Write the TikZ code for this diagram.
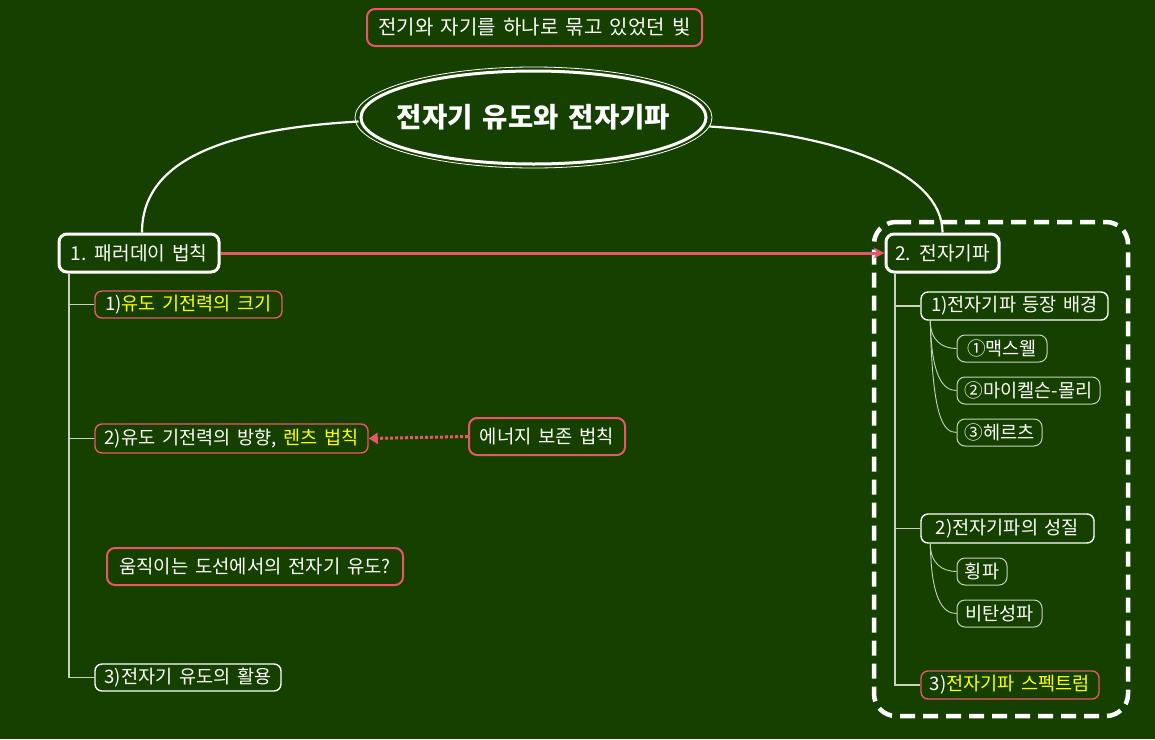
\documentclass[tikz,border=0pt]{standalone}
\usepackage{fontspec}
\setmainfont{Noto Sans CJK KR}[WordSpace=1.6]
\usetikzlibrary{arrows.meta,shapes.geometric}
\definecolor{bg}{HTML}{154000}
\definecolor{pinkc}{HTML}{E8566C}
\definecolor{yel}{HTML}{FFFF00}
\definecolor{treec}{HTML}{C9D3BF}
\tikzset{
  box/.style={draw, rounded corners=7pt, inner sep=0pt, text=white, line width=1.4pt, font=\fontsize{18.6}{20}\selectfont},
  pbox/.style={box, draw=pinkc},
  wbox/.style={box, draw=white},
  bigbox/.style={pbox, line width=2pt, rounded corners=8pt, font=\fontsize{18.8}{20}\selectfont},
  mainbox/.style={box, draw=white, line width=3pt, rounded corners=8pt, font=\fontsize{19.2}{21}\selectfont},
  leaf/.style={box, draw=treec, line width=1pt, rounded corners=8pt},
  treeline/.style={draw=treec, line width=1.3pt},
  subline/.style={draw=treec, line width=0.9pt},
  mainline/.style={draw=white, line width=2.2pt},
  frame/.style={draw=white, line width=4.5pt, dash pattern=on 15pt off 8pt, rounded corners=22pt}
}
\begin{document}
\begin{tikzpicture}[x=1pt,y=-1pt]
\fill[bg] (0,0) rectangle (1155,739);
\useasboundingbox (0,0) rectangle (1155,739);

% dashed frame
\draw[frame] (874,222) -- (1128,222) -- (1128,716) -- (874,716) -- cycle;

% top caption
\node[bigbox, minimum width=335, minimum height=37, font=\fontsize{20}{22}\selectfont] (cap) at (534.5,27.5) {전기와 자기를 하나로 묶고 있었던 빛};

% title ellipse
\node[inner sep=0pt, text=white, font=\fontsize{27.5}{30}\selectfont\bfseries] (title) at (533.5,117.5) {전자기 유도와 전자기파};
\draw[white, line width=3pt] (title.center) ellipse (172.5 and 46.5);
\draw[white, line width=0.8pt] (title.center) ellipse (178.5 and 50.5);
\coordinate (tl) at ([shift={(-175,4)}]title.center);
\coordinate (tr) at ([shift={(176,9)}]title.center);

% main nodes
\node[mainbox, minimum width=160, minimum height=38] (n1) at (139,253) {1. 패러데이 법칙};
\node[mainbox, minimum width=113, minimum height=38] (n2) at (942.5,253) {2. 전자기파};

% main curves
\draw[mainline] (tl) .. controls +(-140,8) and +(0,-70) .. ([xshift=3pt]n1.north);
\draw[mainline] (tr) .. controls +(130,8) and +(0,-60) .. (n2.north);

% pink arrow
\draw[draw=pinkc, line width=3pt, -{Stealth[length=11pt,width=11pt]}] (n1.east) -- (n2.west);

% left children
\node[pbox, minimum width=187, minimum height=27] (c1) at (188.5,304.5) {1)\textcolor{yel}{유도 기전력의 크기}};
\node[pbox, minimum width=273, minimum height=29] (c2) at (231.5,438.5) {2)유도 기전력의 방향, \textcolor{yel}{렌츠 법칙}};
\node[wbox, minimum width=186, minimum height=27] (c3) at (188,677.5) {3)전자기 유도의 활용};
\node[bigbox, minimum width=156, minimum height=37] (en) at (547,436.5) {에너지 보존 법칙};
\node[bigbox, minimum width=296, minimum height=37] (q) at (255,566.5) {움직이는 도선에서의 전자기 유도?};

\draw[treeline] ([xshift=-70pt]n1.south) |- (c3.west);
\draw[treeline] ([xshift=-70pt]n1.south |- c1.west) -- (c1.west);
\draw[treeline] ([xshift=-70pt]n1.south |- c2.west) -- (c2.west);

% dotted arrow
\draw[draw=pinkc, line width=3pt, dotted, -{Triangle[length=9pt,width=11pt]}] (en.west) -- (c2.east);

% right children
\node[wbox, minimum width=187, minimum height=28] (r1) at (1014.5,306) {1)전자기파 등장 배경};
\node[wbox, minimum width=173, minimum height=29] (r2) at (1007.5,528.5) {2)전자기파의 성질};
\node[pbox, minimum width=178, minimum height=28] (r3) at (1010,685) {3)\textcolor{yel}{전자기파 스펙트럼}};

\draw[treeline] ([xshift=-47.5pt]n2.south) |- (r3.west);
\draw[treeline] ([xshift=-47.5pt]n2.south |- r1.west) -- (r1.west);
\draw[treeline] ([xshift=-47.5pt]n2.south |- r2.west) -- (r2.west);

\node[leaf, minimum width=90, minimum height=27] (m1) at (1002,348.5) {①맥스웰};
\node[leaf, minimum width=143, minimum height=27] (m2) at (1028.5,390.5) {②마이켈슨-몰리};
\node[leaf, minimum width=85, minimum height=27] (m3) at (999.5,432.5) {③헤르츠};
\node[leaf, minimum width=50, minimum height=27] (p1) at (982,571.5) {횡파};
\node[leaf, minimum width=85, minimum height=27] (p2) at (999.5,613.5) {비탄성파};

\draw[subline] ([xshift=10pt]r1.south west) .. controls +(0,20) and +(-14,0) .. (m1.west);
\draw[subline] ([xshift=10pt]r1.south west) .. controls +(1,55) and +(-14,0) .. (m2.west);
\draw[subline] ([xshift=10pt]r1.south west) .. controls +(2,95) and +(-14,0) .. (m3.west);
\draw[subline] ([xshift=10pt]r2.south west) .. controls +(0,20) and +(-14,0) .. (p1.west);
\draw[subline] ([xshift=10pt]r2.south west) .. controls +(1,55) and +(-14,0) .. (p2.west);
\end{tikzpicture}
\end{document}
